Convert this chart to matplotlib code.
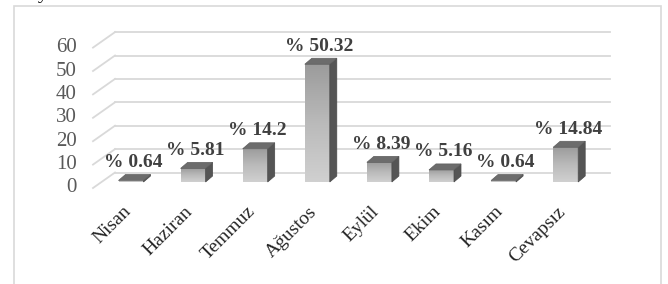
"""
Aylara gore dagilim - 3D gorunumlu gri cubuk grafik (Excel tarzi)
"""

import matplotlib
matplotlib.use("Agg")
import matplotlib.pyplot as plt
import numpy as np
from matplotlib.patches import Polygon, Rectangle
from matplotlib.colors import LinearSegmentedColormap

months = ["Nisan", "Haziran", "Temmuz", "Ağustos", "Eylül", "Ekim", "Kasım", "Cevapsız"]
percent = [0.64, 5.81, 14.2, 50.32, 8.39, 5.16, 0.64, 14.84]
y_ticks = [0, 10, 20, 30, 40, 50, 60]

plt.rcParams['font.family'] = ['Liberation Serif', 'DejaVu Serif']

W, H = 668, 284
fig = plt.figure(figsize=(W / 100, H / 100), dpi=100)
ax = fig.add_axes([0, 0, 1, 1])

# pixel geometry of the projected chart
x0_px, step_px = 131, 62.1      # first bar centre, bar spacing
base_px, unit_px = 182, 2.34    # front floor line, pixels per percent
px_x = 1 / step_px
px_y = 1 / unit_px

ax.set_xlim(-x0_px * px_x, (W - x0_px) * px_x)
ax.set_ylim((base_px - H) * px_y, base_px * px_y)
ax.axis('off')

grid_col = '#d9d9d9'
back_dy = 9.5 * px_y            # back wall sits higher
front_dy = -6 * px_y            # front edge of floor
wall_l, wall_r, front_l = (115 - x0_px) * px_x, (610 - x0_px) * px_x, (93 - x0_px) * px_x

for t in y_ticks:
    ax.plot([wall_l, wall_r], [t + back_dy, t + back_dy], color=grid_col, lw=1.3, zorder=1)
    ax.plot([front_l, wall_l], [t + front_dy, t + back_dy], color=grid_col, lw=1.3, zorder=1)
    ax.text((77 - x0_px) * px_x, t + front_dy, str(t), ha='right', va='center',
            fontsize=15, color='#595959')

# bars
bw = 25 * px_x
dx, dy = 7 * px_x, 6 * px_y
front_cmap = LinearSegmentedColormap.from_list('front', ['#9c9c9c', '#bababa', '#d0d0d0'])
grad = np.linspace(0, 1, 64).reshape(-1, 1)

for i, v in enumerate(percent):
    l, r = i - bw / 2, i + bw / 2
    face = Rectangle((l, 0), bw, v, facecolor='none', edgecolor='none', zorder=3)
    ax.add_patch(face)
    # darker at the top, lighter near the floor
    im = ax.imshow(grad, extent=[l, r, 0, v], aspect='auto', cmap=front_cmap,
                   zorder=3, origin='upper')
    im.set_clip_path(face)
    side = Polygon([(r, 0), (r + dx, dy), (r + dx, v + dy), (r, v)],
                   closed=True, facecolor='#555555', edgecolor='#4a4a4a', lw=0.5, zorder=4)
    top = Polygon([(l, v), (r, v), (r + dx, v + dy), (l + dx, v + dy)],
                  closed=True, facecolor='#6c6c6c', edgecolor='#5e5e5e', lw=0.5, zorder=4)
    ax.add_patch(side)
    ax.add_patch(top)
    ax.text(i + 2 * px_x, v + 18 * px_y, f"% {v}", ha='center', va='center',
            fontsize=14, fontweight='bold', color='#404040', zorder=5)
    ax.text(i + 3 * px_x, -21 * px_y, months[i], rotation=45, ha='right', va='top',
            fontsize=14, color='#262626')

ax.set_xlim(-x0_px * px_x, (W - x0_px) * px_x)
ax.set_ylim((base_px - H) * px_y, base_px * px_y)

# chart border and clipped text fragment above it
fig.add_artist(Rectangle((14 / W, -0.1), (661 - 14) / W, 1.1 - 6 / H,
                         transform=fig.transFigure, fill=False,
                         edgecolor=grid_col, lw=1.2))
fig.text(38 / W, 1 + 1 / H, "y", ha='left', va='baseline', fontsize=14, color='black')

fig.savefig("out.png", dpi=100)
